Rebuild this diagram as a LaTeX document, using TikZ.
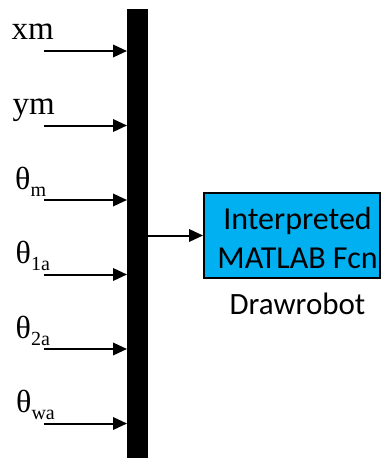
\documentclass[tikz,border=0pt]{standalone}
\usepackage{fontspec}
\setmainfont{Liberation Serif}
\newfontfamily\calfont{Carlito}
\usetikzlibrary{arrows.meta}
\definecolor{fcnblue}{RGB}{0,176,240}
\newcommand\thsub[1]{{\fontsize{32pt}{34pt}\selectfont θ}\raisebox{-7.4pt}{\fontsize{20pt}{22pt}\selectfont #1}}
\begin{document}
\begin{tikzpicture}[x=1pt,y=-1pt,
  sig/.style={line width=2pt,-{Triangle[length=14pt,width=12.5pt]}},
  lbl/.style={anchor=base west,inner sep=0pt,font=\fontsize{33pt}{36pt}\selectfont},
  thlbl/.style={anchor=base west,inner sep=0pt},
  busbar/.style={fill=black,draw=none,inner sep=0pt,minimum width=21pt,minimum height=449pt,anchor=north west},
  fcnbox/.style={draw=black,line width=2pt,fill=fcnblue,inner sep=0pt,minimum width=176pt,minimum height=85pt,anchor=north west},
  caltext/.style={font=\calfont\fontsize{32pt}{38.5pt}\selectfont,inner sep=0pt}]
\useasboundingbox (0,0) rectangle (381,458);
\node[busbar] (bar) at (127,9) {};
\coordinate (s1) at (44,51);
\coordinate (s2) at (44,125.5);
\coordinate (s3) at (44,200);
\coordinate (s4) at (44,274.5);
\coordinate (s5) at (44,349);
\coordinate (s6) at (44,423.5);
\foreach \s in {s1,s2,s3,s4,s5,s6}{\draw[sig] (\s) -- (\s -| bar.west);}
\node[lbl] (l1) at (11.5,39.5) {xm};
\node[lbl] (l2) at (12.5,114.5) {ym};
\node[thlbl] (l3) at (15,189.3) {\thsub{m}};
\node[thlbl] (l4) at (15.5,263.5) {\thsub{1a}};
\node[thlbl] (l5) at (15.5,338) {\thsub{2a}};
\node[thlbl] (l6) at (16,412.5) {\thsub{wa}};
\node[fcnbox] (fcn) at (203,192) {};
\draw[sig] (bar.east |- fcn.west) -- (fcn.west);
\node[caltext,align=center] (fcntext) at (297.5,238) {Interpreted\\MATLAB Fcn};
\node[caltext,anchor=base,font=\calfont\fontsize{31pt}{36pt}\selectfont] (fcnname) at (297.5,314) {Drawrobot};
\end{tikzpicture}
\end{document}
